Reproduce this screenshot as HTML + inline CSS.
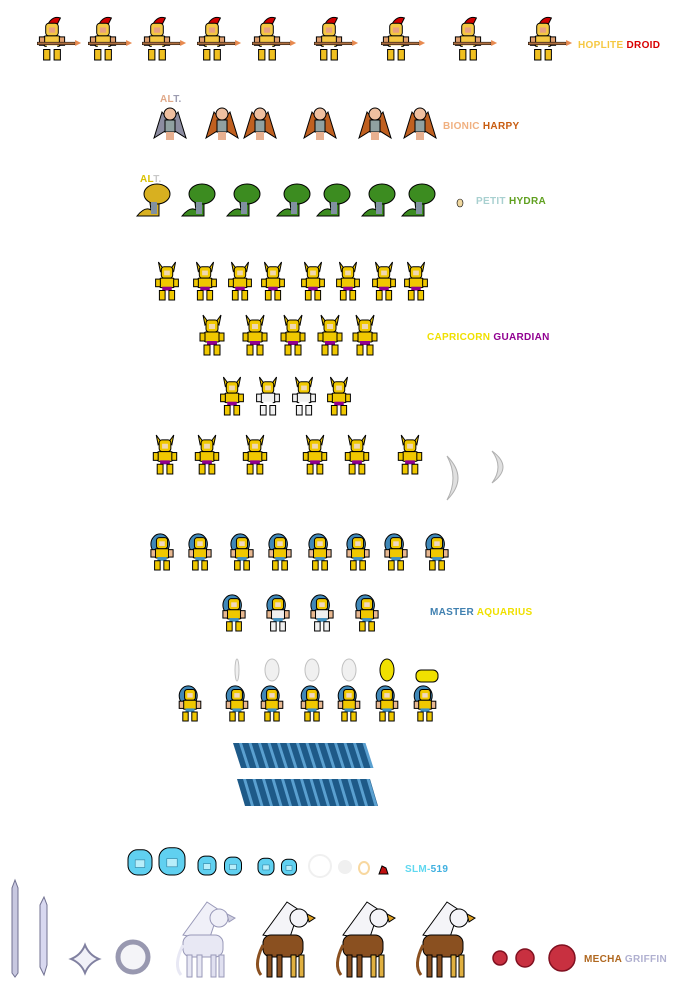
<!DOCTYPE html>
<html><head><meta charset="utf-8">
<style>
html,body{margin:0;padding:0;background:#fff;}
body{width:698px;height:1005px;overflow:hidden;position:relative;font-family:"Liberation Sans","DejaVu Sans",sans-serif;}
.lbl{position:absolute;font-weight:bold;font-size:10px;letter-spacing:0.3px;white-space:nowrap;}
svg{position:absolute;left:0;top:0;}
</style></head>
<body>
<svg id="s" width="698" height="1005"></svg>
<div class="lbl" style="left:578px;top:40px"><span style="color:#f5c842">HOPLITE</span> <span style="color:#d80000">DROID</span></div>
<div class="lbl" style="left:160px;top:94px;color:#e0a888">AL<span style="color:#9c9cb0">T.</span></div>
<div class="lbl" style="left:443px;top:121px"><span style="color:#f0b080">BIONIC</span> <span style="color:#c85c10">HARPY</span></div>
<div class="lbl" style="left:140px;top:174px;color:#d8c000">AL<span style="color:#c8c8c8">T.</span></div>
<div class="lbl" style="left:476px;top:196px"><span style="color:#a8d0d0">PETIT</span> <span style="color:#60a020">HYDRA</span></div>
<div class="lbl" style="left:427px;top:332px"><span style="color:#f0e000">CAPRICORN</span> <span style="color:#900090">GUARDIAN</span></div>
<div class="lbl" style="left:430px;top:607px"><span style="color:#4080b0">MASTER</span> <span style="color:#f0e000">AQUARIUS</span></div>
<div class="lbl" style="left:405px;top:864px"><span style="color:#60d8f0">SLM-</span><span style="color:#40b0e0">519</span></div>
<div class="lbl" style="left:584px;top:954px"><span style="color:#b06820">MECHA</span> <span style="color:#b0b0d0">GRIFFIN</span></div>
<script>
const hopliteX=[52,103,157,212,267,329,396,468,543];
const harpyX=[170,222,260,320,375,420];
const hydraX=[155,200,245,295,335,380,420];
const capA=[167,205,240,273,313,348,384,416];
const capB=[212,255,293,330,365];
const capC=[232,268,304,339];
const capD=[165,207,255,315,357,410];
const aqA=[162,200,242,280,320,358,396,437];
const aqB=[234,278,322,367];
const aqC=[190,237,272,312,349,387,425];
const vaseX=[237,272,312,349,387,427];
const slimeX=[140,172,207,233,266,289];
const slimeW=[24,26,18,17,16,15];
const griffinX=[205,285,365,445];
const orbX=[500,525,562];
const orbR=[7,9,13];
const NS='http://www.w3.org/2000/svg';
const svg=document.getElementById('s');
function el(t,a,p){const e=document.createElementNS(NS,t);for(const k in a)e.setAttribute(k,a[k]);(p||svg).appendChild(e);return e;}
function grp(name){const g=el('g',{});return g;}
function humanoid(name,cx,top,h,c){
  const g=grp(name);const s=h/40;const st={stroke:'#000','stroke-width':1};
  if(c.horn){el('path',Object.assign({d:`M${cx-7*s},${top+10*s} L${cx-9*s},${top} L${cx-4*s},${top+7*s} Z M${cx+7*s},${top+10*s} L${cx+9*s},${top} L${cx+4*s},${top+7*s} Z`,fill:c.helm},st),g);}
  if(c.plume){el('path',{d:`M${cx-5*s},${top+8*s} Q${cx},${top-3*s} ${cx+8*s},${top}  L${cx+4*s},${top+8*s} Z`,fill:'#d00000',stroke:'#000'},g);}
  if(c.hair){el('ellipse',{cx:cx-2*s,cy:top+12*s,rx:10*s,ry:11*s,fill:c.hair,stroke:'#000'},g);}
  el('rect',Object.assign({x:cx-6*s,y:top+5*s,width:12*s,height:12*s,rx:3*s,fill:c.helm},st),g);
  el('rect',{x:cx-3*s,y:top+9*s,width:6*s,height:5*s,fill:c.face},g);
  el('rect',Object.assign({x:cx-8*s,y:top+17*s,width:16*s,height:10*s,rx:2*s,fill:c.body},st),g);
  el('rect',Object.assign({x:cx-12*s,y:top+18*s,width:5*s,height:8*s,fill:c.arm||c.body},st),g);
  el('rect',Object.assign({x:cx+7*s,y:top+18*s,width:5*s,height:8*s,fill:c.arm||c.body},st),g);
  el('rect',{x:cx-5*s,y:top+26*s,width:10*s,height:4*s,fill:c.belt},g);
  el('rect',Object.assign({x:cx-8*s,y:top+30*s,width:6*s,height:10*s,fill:c.leg},st),g);
  el('rect',Object.assign({x:cx+2*s,y:top+30*s,width:6*s,height:10*s,fill:c.leg},st),g);
  if(c.spear){el('rect',{x:cx-14*s,y:top+23*s,width:36*s,height:2.5*s,fill:'#b07040',stroke:'#000','stroke-width':0.5},g);el('path',{d:`M${cx+22*s},${top+21*s} l6,3 l-6,3z`,fill:'#e88a50'},g);}
  return g;
}
const hop={helm:'#f5c842',face:'#e8a080',body:'#f5c842',arm:'#e0a070',belt:'#fff',leg:'#f0c020',plume:1,spear:1};
hopliteX.forEach((x,i)=>humanoid('hoplite-droid-'+(i+1),x,18,42,hop));
harpyX.forEach((x,i)=>{const g=grp('bionic-harpy-'+(i+1));const w=i==0?'#8c8ca0':'#c06020';
  el('path',{d:`M${x-16},${x?138:0} L${x-8},112 L${x},122 L${x+8},112 L${x+16},138 L${x},128 Z`,fill:w,stroke:'#000'},g);
  el('circle',{cx:x,cy:114,r:6,fill:'#f0c0a0',stroke:'#000'},g);
  el('rect',{x:x-5,y:120,width:10,height:12,fill:'#90a0a0',stroke:'#000'},g);
  el('rect',{x:x-4,y:132,width:8,height:8,fill:'#e8b090'},g);});
hydraX.forEach((x,i)=>{const g=grp('petit-hydra-'+(i+1));const c=i==0?'#d8b020':'#3c8c20';
  el('path',{d:`M${x-18},216 Q${x-10},206 ${x-4},210 L${x-6},196 L${x+4},196 L${x+4},216 Z`,fill:c,stroke:'#000'},g);
  el('ellipse',{cx:x+2,cy:194,rx:13,ry:10,fill:c,stroke:'#000'},g);
  el('rect',{x:x-4,y:202,width:6,height:12,fill:'#8090a0'},g);});
el('ellipse',{cx:460,cy:203,rx:3,ry:4,fill:'#f0d8a0',stroke:'#000','stroke-width':0.6});
const cap={helm:'#f0c800',face:'#f0d8b0',body:'#f0c800',belt:'#900090',leg:'#f0c800',horn:1};
const capW={helm:'#f0c800',face:'#f0d8b0',body:'#f0f0f0',belt:'#fff',leg:'#f0f0f0',horn:1};
capA.forEach((x,i)=>humanoid('capricorn-idle-'+(i+1),x,262,38,cap));
capB.forEach((x,i)=>humanoid('capricorn-move-'+(i+1),x,315,40,cap));
capC.forEach((x,i)=>humanoid('capricorn-flash-'+(i+1),x,377,38,i==1||i==2?capW:cap));
capD.forEach((x,i)=>humanoid('capricorn-attack-'+(i+1),x,435,39,cap));
[[455,478,22],[500,467,16]].forEach((p,i)=>{const g=grp('crescent-slash-'+(i+1));
  el('path',{d:`M${p[0]-8},${p[1]-p[2]} Q${p[0]+14},${p[1]} ${p[0]-8},${p[1]+p[2]} Q${p[0]+4},${p[1]} ${p[0]-8},${p[1]-p[2]} Z`,fill:'#e0e0e0',stroke:'#b0b0b0'},g);});
const aq={helm:'#f0c800',face:'#f0d8c0',body:'#f0c800',belt:'#4090c0',leg:'#f0c800',hair:'#4088b8',arm:'#e8b890'};
const aqW=Object.assign({},aq,{body:'#f0f0f0',leg:'#f0f0f0'});
aqA.forEach((x,i)=>humanoid('aquarius-idle-'+(i+1),x,533,37,aq));
aqB.forEach((x,i)=>humanoid('aquarius-flash-'+(i+1),x,594,37,i==1||i==2?aqW:aq));
aqC.forEach((x,i)=>humanoid('aquarius-cast-'+(i+1),x,685,36,aq));
vaseX.forEach((x,i)=>{const g=grp('vase-'+(i+1));const f=i==4||i==5?'#f0e000':'#f0f0f0';const s=i>=4?'#000':'#c0c0c0';
  if(i==5)el('rect',{x:x-11,y:670,width:22,height:12,rx:5,fill:f,stroke:s},g);
  else el('ellipse',{cx:x,cy:670,rx:i==0?2:7,ry:11,fill:f,stroke:s},g);});
[[233,743,132,25],[237,779,133,27]].forEach((w,i)=>{const g=grp('water-wave-'+(i+1));
  el('path',{d:`M${w[0]},${w[1]} h${w[2]} l8,${w[3]} h-${w[2]} z`,fill:'#1e5a88'},g);
  for(let k=0;k<14;k++)el('path',{d:`M${w[0]+6+k*9.5},${w[1]} l8,${w[3]} h3 l-8,-${w[3]} z`,fill:'#5aa0d0'},g);});
slimeX.forEach((x,i)=>{const g=grp('slime-'+(i+1));const w=slimeW[i],h=w*1.05;
  el('rect',{x:x-w/2,y:875-h,width:w,height:h,rx:w/2.5,fill:'#60d0f0',stroke:'#000'},g);
  el('rect',{x:x-w/5,y:875-h*0.6,width:w*0.4,height:h*0.3,fill:'#b8eefa',stroke:'#3080a0','stroke-width':0.6},g);});
el('circle',{cx:320,cy:866,r:11,fill:'none',stroke:'#f0f0f0','stroke-width':2});
el('circle',{cx:345,cy:867,r:7,fill:'#f0f0f0'});
el('ellipse',{cx:364,cy:868,rx:5,ry:6,fill:'#fff',stroke:'#f8d8a0','stroke-width':2});
el('path',{d:'M379,874 l3,-8 l4,2 l2,6 z',fill:'#c01010',stroke:'#000'});
el('path',{d:'M15,880 l3,8 v85 l-3,4 l-3,-4 v-85 z',fill:'#c8c8e0',stroke:'#707090'});
el('path',{d:'M44,897 l3,8 v60 l-3,10 l-4,-8 v-62 z',fill:'#d8d8f0',stroke:'#707090'});
el('path',{d:'M85,945 q4,10 14,14 q-10,4 -14,14 q-4,-10 -14,-14 q10,-4 14,-14 z',fill:'#f0f0f8',stroke:'#8080a0','stroke-width':2});
el('circle',{cx:133,cy:957,r:15,fill:'#f4f4f8',stroke:'#9898b0','stroke-width':5});
griffinX.forEach((x,i)=>{const g=grp('mecha-griffin-'+(i+1));const ghost=i==0;
  const br=ghost?'#e8e8f4':'#8a5020',wh=ghost?'#f0f0f8':'#f4f4f8',st=ghost?'#9898b8':'#000';
  el('path',{d:`M${x-22},935 L${x+2},902 L${x+14},910 L${x+4},940 Z`,fill:wh,stroke:st},g);
  el('rect',{x:x-22,y:935,width:40,height:22,rx:8,fill:br,stroke:st},g);
  el('circle',{cx:x+14,cy:918,r:9,fill:wh,stroke:st},g);
  el('path',{d:`M${x+22},914 l8,4 l-6,4 z`,fill:ghost?'#d0d0e0':'#e0a020',stroke:st},g);
  [-18,-8,6,14].forEach(d=>el('rect',{x:x+d,y:955,width:5,height:22,fill:d>0?(ghost?'#e0e0f0':'#e0b040'):br,stroke:st},g));
  el('path',{d:`M${x-22},945 q-10,20 -2,30`,fill:'none',stroke:br,'stroke-width':3},g);});
orbX.forEach((x,i)=>{const c=el('circle',{cx:x,cy:958,r:orbR[i],fill:'#c83040',stroke:'#801020','stroke-width':1.5});
  
  });
</script>
</body></html>
